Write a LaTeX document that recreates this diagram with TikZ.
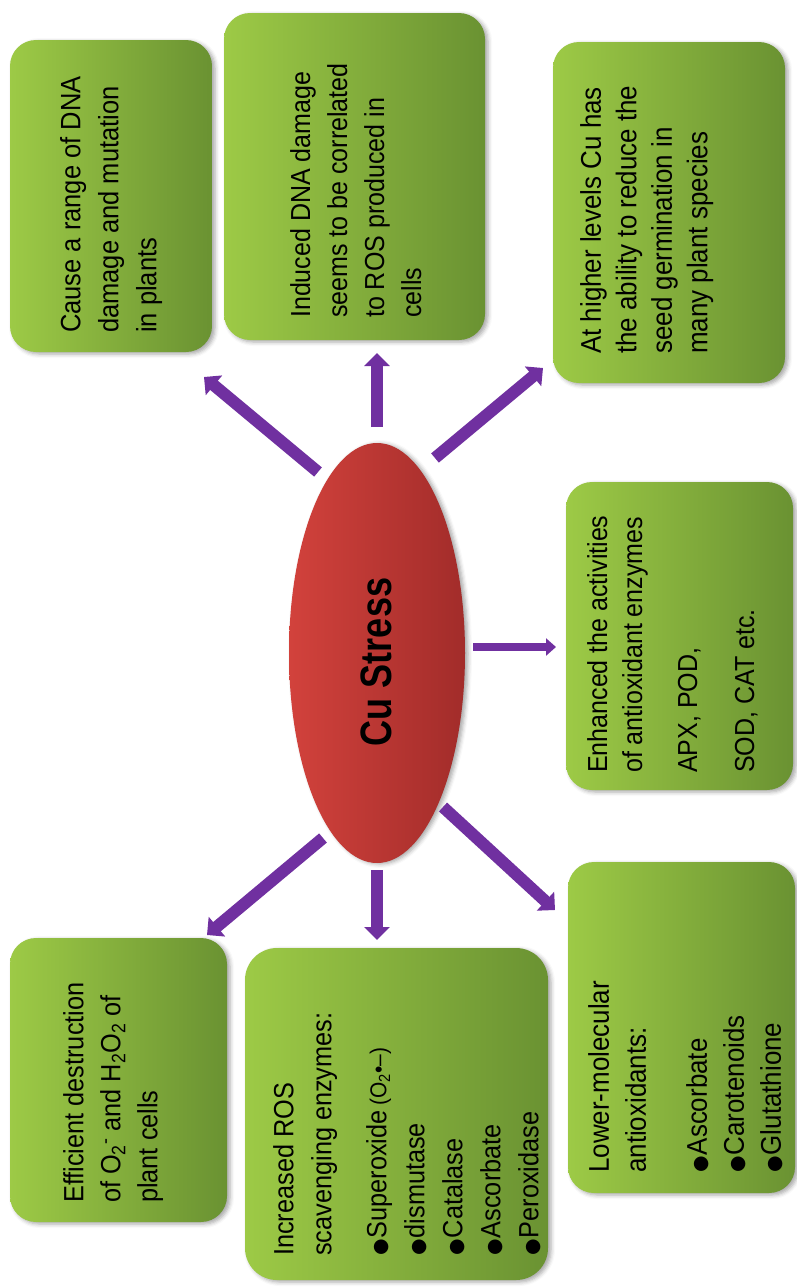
\documentclass[tikz,border=0pt]{standalone}
\usepackage{fontspec}
\usepackage{graphicx}
\setmainfont{Liberation Sans}
\newfontfamily\cardfont[FakeStretch=0.91]{Liberation Sans}
\newfontfamily\symfont{DejaVu Sans}
\usetikzlibrary{arrows.meta,shapes.geometric,shadows.blur}

\definecolor{leafL}{RGB}{157,202,70}
\definecolor{leafM}{RGB}{140,186,62}
\definecolor{leafR}{RGB}{106,146,50}
\definecolor{rubyL}{RGB}{210,66,60}
\definecolor{rubyR}{RGB}{162,44,42}
\definecolor{arrowpurple}{RGB}{112,48,160}

% bullet used in the lists
\newcommand\dotb{{\symfont\fontsize{19}{19}\selectfont ●}\kern1pt}

\tikzset{
  card/.style={rectangle, rounded corners=26pt, inner sep=0pt,
    left color=leafL, middle color=leafM, right color=leafR,
    blur shadow={shadow xshift=3pt, shadow yshift=-2pt,
      shadow blur radius=4pt, shadow opacity=35}},
  txt/.style={rotate=90, anchor=north west, inner sep=0pt, align=left, text=black},
  push/.style={draw=arrowpurple, line width=12pt,
    -{Triangle[length=13pt,width=25pt]}},
  pushthin/.style={draw=arrowpurple, line width=8pt,
    -{Triangle[length=10pt,width=17pt]}},
}

\begin{document}
\begin{tikzpicture}[x=1pt,y=-1pt]
\useasboundingbox (0,0) rectangle (796,1288);

% central ellipse
\node[ellipse, minimum width=176pt, minimum height=420pt, inner sep=0pt,
  left color=rubyL, right color=rubyR,
  blur shadow={shadow xshift=3pt, shadow yshift=-1pt, shadow blur radius=4pt, shadow opacity=35}]
  (ell) at (377,653) {};
\node[rotate=90, inner sep=0pt, font=\bfseries\fontsize{44}{44}\selectfont]
  (cu) at (376,662) {\scalebox{0.82}[1]{Cu Stress}};

% green cards
\node[card, minimum width=202pt, minimum height=312pt] (b1) at (111,196) {};
\node[card, minimum width=261pt, minimum height=327pt] (b2) at (354.5,176.5) {};
\node[card, minimum width=232pt, minimum height=341pt] (b3) at (669,212.5) {};
\node[card, minimum width=227pt, minimum height=308pt] (b4) at (679.5,636) {};
\node[card, minimum width=217pt, minimum height=284pt] (b5) at (118.5,1080) {};
\node[card, minimum width=303pt, minimum height=332pt, rounded corners=32pt] (b6) at (396.5,1114) {};
\node[card, minimum width=227pt, minimum height=331pt] (b7) at (681.5,1027.5) {};

% card texts
\node[txt, font=\cardfont\fontsize{28}{38}\selectfont] (t1) at (60,333)
  {Cause a range of DNA\\damage and mutation\\in plants};
\node[txt, font=\cardfont\fontsize{27.5}{37}\selectfont] (t2) at (290,318)
  {Induced DNA damage\\seems to be correlated\\to ROS produced in\\cells};
\node[txt, font=\cardfont\fontsize{28.5}{35.5}\selectfont] (t3) at (580,354)
  {At higher levels Cu has\\the ability to reduce the\\seed germination in\\many plant species};
\node[txt, font=\cardfont\fontsize{27.5}{35}\selectfont] (t4) at (587,773)
  {Enhanced the activities\\of antioxidant enzymes\\[20pt]APX, POD,\\[22pt]SOD, CAT etc.};
\node[txt, font=\cardfont\fontsize{27.8}{37}\selectfont] (t5) at (63,1203)
  {Efficient destruction\\of O\textsubscript{2}\textsuperscript{-} and H\textsubscript{2}O\textsubscript{2} of\\plant cells};
\node[txt, font=\cardfont\fontsize{27.8}{38}\selectfont] (t6) at (273,1256)
  {Increased ROS\\scavenging enzymes:\\[17pt]\dotb Superoxide\,{\fontsize{23}{23}\selectfont(O\textsubscript{2}•–)}\\\dotb dismutase\\\dotb Catalase\\\dotb Ascorbate\\\dotb Peroxidase};
\node[txt, font=\cardfont\fontsize{28.5}{37}\selectfont] (t7) at (588,1173)
  {Lower-molecular\\antioxidants:\\[24pt]\dotb Ascorbate\\\dotb Carotenoids\\\dotb Glutathione};

% arrow ends
\coordinate (s1) at (318,472); \coordinate (e1) at (204,377);
\coordinate (s2) at (377,427); \coordinate (e2) at (377,353);
\coordinate (s3) at (435,458); \coordinate (e3) at (543,368);
\coordinate (s4) at (473,647); \coordinate (e4) at (556,647);
\coordinate (s5) at (323,838); \coordinate (e5) at (207,935);
\coordinate (s6) at (377,870); \coordinate (e6) at (377,940);
\coordinate (s7) at (443,807); \coordinate (e7) at (555,910);

\draw[push] (s1) -- (e1);
\draw[push] (s2) -- (e2);
\draw[push] (s3) -- (e3);
\draw[pushthin] (s4) -- (e4);
\draw[push] (s5) -- (e5);
\draw[push] (s6) -- (e6);
\draw[push] (s7) -- (e7);
\end{tikzpicture}
\end{document}
